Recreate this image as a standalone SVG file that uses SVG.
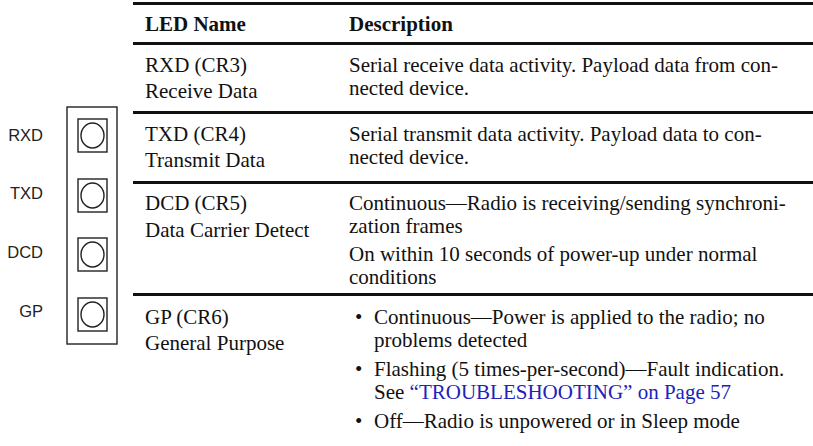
<svg xmlns="http://www.w3.org/2000/svg" width="813" height="446" viewBox="0 0 813 446">
<style>
.t{font-family:"Liberation Serif","Times New Roman",serif;font-size:21px;fill:#111}
.h{font-family:"Liberation Serif","Times New Roman",serif;font-size:21px;font-weight:bold;fill:#111}
.s{font-family:"Liberation Sans",Arial,sans-serif;font-size:16.5px;fill:#222;text-anchor:end}
.rule{stroke:#111;stroke-width:3}
.box{fill:none;stroke:#222;stroke-width:1.4}
.link{fill:#2222b8}
</style>
<rect width="813" height="446" fill="#fff"/>
<g id="led-panel">
  <rect class="box" x="67" y="107" width="50" height="237"/>
  <g id="led-rxd"><rect class="box" x="78" y="119" width="29" height="33"/><ellipse class="box" cx="92.5" cy="135.5" rx="11.5" ry="12.5"/><text class="s" x="43" y="141">RXD</text></g>
  <g id="led-txd"><rect class="box" x="78" y="179" width="29" height="33"/><ellipse class="box" cx="92.5" cy="195.5" rx="11.5" ry="12.5"/><text class="s" x="43" y="199">TXD</text></g>
  <g id="led-dcd"><rect class="box" x="78" y="238" width="29" height="33"/><ellipse class="box" cx="92.5" cy="254.5" rx="11.5" ry="12.5"/><text class="s" x="43" y="258">DCD</text></g>
  <g id="led-gp"><rect class="box" x="78" y="298" width="29" height="33"/><ellipse class="box" cx="92.5" cy="314.5" rx="11.5" ry="12.5"/><text class="s" x="43" y="317">GP</text></g>
</g>
<g id="rules">
  <line class="rule" x1="133" y1="3.5" x2="813" y2="3.5" stroke-width="4"/>
  <line class="rule" x1="133" y1="43.5" x2="813" y2="43.5"/>
  <line class="rule" x1="133" y1="112.5" x2="813" y2="112.5"/>
  <line class="rule" x1="133" y1="182.5" x2="813" y2="182.5"/>
  <line class="rule" x1="133" y1="294.5" x2="813" y2="294.5"/>
</g>
<g id="header">
  <text class="h" x="145" y="31">LED Name</text>
  <text class="h" x="349" y="31">Description</text>
</g>
<g id="row-rxd">
  <text class="t" x="145" y="72">RXD (CR3)</text>
  <text class="t" x="145" y="98">Receive Data</text>
  <text class="t" x="349" y="72">Serial receive data activity. Payload data from con-</text>
  <text class="t" x="349" y="95">nected device.</text>
</g>
<g id="row-txd">
  <text class="t" x="145" y="141">TXD (CR4)</text>
  <text class="t" x="145" y="167">Transmit Data</text>
  <text class="t" x="349" y="141">Serial transmit data activity. Payload data to con-</text>
  <text class="t" x="349" y="164">nected device.</text>
</g>
<g id="row-dcd">
  <text class="t" x="145" y="210">DCD (CR5)</text>
  <text class="t" x="145" y="237">Data Carrier Detect</text>
  <text class="t" x="349" y="210">Continuous—Radio is receiving/sending synchroni-</text>
  <text class="t" x="349" y="233">zation frames</text>
  <text class="t" x="349" y="261">On within 10 seconds of power-up under normal</text>
  <text class="t" x="349" y="284">conditions</text>
</g>
<g id="row-gp">
  <text class="t" x="145" y="324">GP (CR6)</text>
  <text class="t" x="145" y="350">General Purpose</text>
  <text class="t" x="355" y="324">•</text>
  <text class="t" x="374" y="324">Continuous—Power is applied to the radio; no</text>
  <text class="t" x="374" y="347">problems detected</text>
  <text class="t" x="355" y="376">•</text>
  <text class="t" x="374" y="376">Flashing (5 times-per-second)—Fault indication.</text>
  <text class="t" x="374" y="399">See <tspan class="link">“TROUBLESHOOTING” on Page 57</tspan></text>
  <text class="t" x="355" y="428">•</text>
  <text class="t" x="374" y="428">Off—Radio is unpowered or in Sleep mode</text>
</g>
</svg>
